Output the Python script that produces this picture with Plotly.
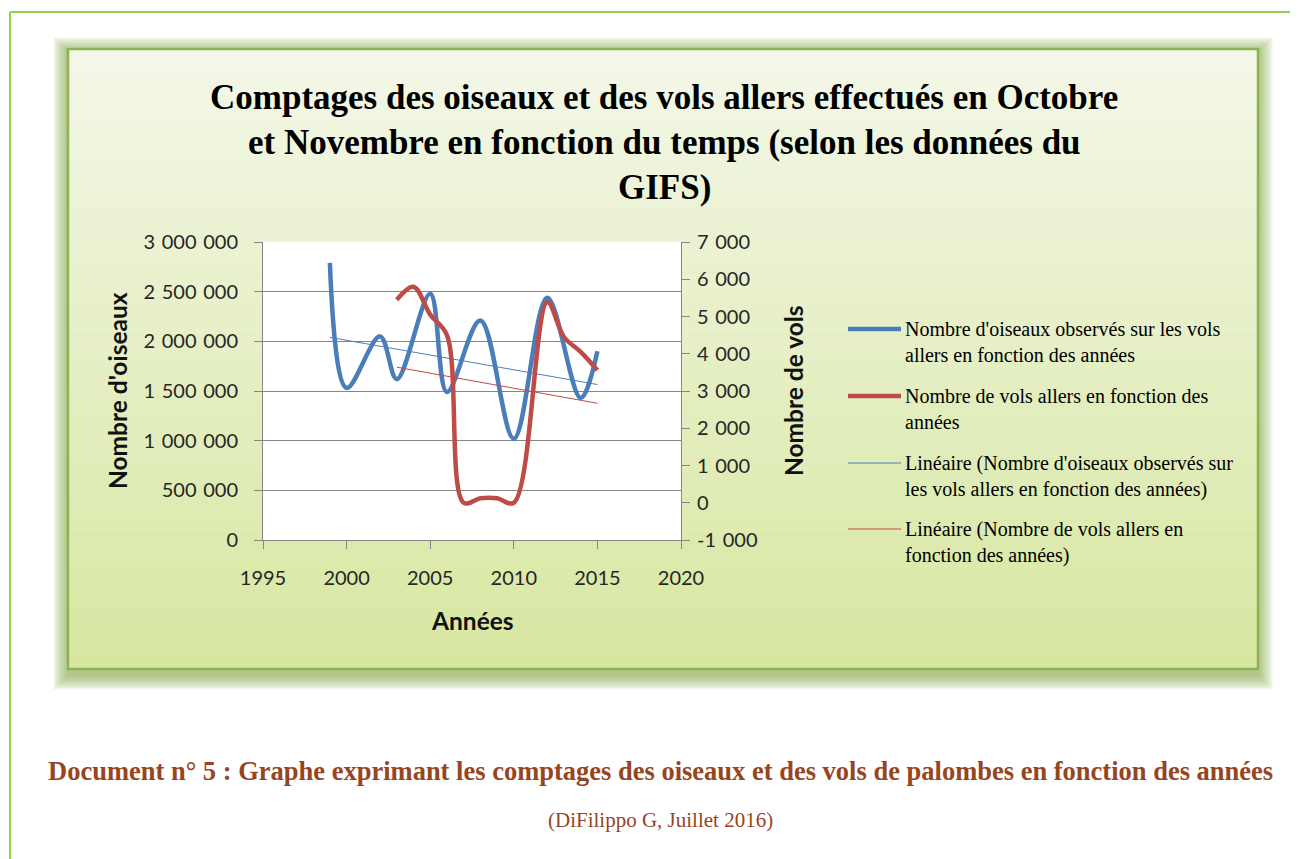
import plotly.graph_objects as go

# ---------------- data ----------------
bird_years = [1999, 2000, 2002, 2003, 2005, 2006, 2008, 2010, 2012, 2014, 2015]
bird_counts = [2790000, 1530000, 2050000, 1620000, 2480000, 1490000, 2210000, 1020000, 2440000, 1430000, 1900000]

flight_years = [2003, 2004, 2005, 2006, 2007, 2008, 2009, 2010, 2012, 2013, 2014, 2015]
flight_counts = [5450, 5800, 5050, 4500, 0, 120, 120, 0, 5380, 4450, 4050, 3560]

bird_trend_years = [1999, 2015]
bird_trend_values = [2040000, 1565000]
flight_trend_years = [2003, 2015]
flight_trend_values = [3640, 2670]

SP = "\u2004"
x_ticks = [1995, 2000, 2005, 2010, 2015, 2020]
left_ticks = [0, 500000, 1000000, 1500000, 2000000, 2500000, 3000000]
left_labels = ["0", "500 000", "1 000 000", "1 500 000", "2 000 000", "2 500 000", "3 000 000"]
right_ticks = [-1000, 0, 1000, 2000, 3000, 4000, 5000, 6000, 7000]
right_labels = ["-1 000", "0", "1 000", "2 000", "3 000", "4 000", "5 000", "6 000", "7 000"]

title_lines = [
    "Comptages des oiseaux et des vols allers effectués en Octobre",
    "et Novembre en fonction du temps (selon les données du",
    "GIFS)",
]
legend_entries = [
    ["Nombre d'oiseaux observés sur les vols", "allers en fonction des années"],
    ["Nombre de vols allers en fonction des", "années"],
    ["Linéaire (Nombre d'oiseaux observés sur", "les vols allers en fonction des années)"],
    ["Linéaire (Nombre de vols allers en", "fonction des années)"],
]
caption = "Document n° 5 : Graphe exprimant les comptages des oiseaux et des vols de palombes en fonction des années"
source = "(DiFilippo G, Juillet 2016)"

# ---------------- layout geometry (screen pixels) ----------------
W, H = 1298, 859
OFF = 8  # default body margin of the html page
PL, PR, PT, PB = 263, 681, 242, 540


def px(x):
    return (x - PL) / (PR - PL)


def py(y):
    return (PB - y) / (PB - PT)


BLUE = "#4a7ebb"
RED = "#be4b48"
AXIS = "#868686"
TICKFONT = dict(family="Lato", size=20, color="#262626")
SANSB = "Lato"
SERIF = "Liberation Serif"

fig = go.Figure()
fig.add_trace(go.Scatter(x=bird_years, y=bird_counts, mode="lines",
                         line=dict(color=BLUE, width=4.5, shape="spline", smoothing=1.0),
                         showlegend=False, yaxis="y"))
fig.add_trace(go.Scatter(x=flight_years, y=flight_counts, mode="lines",
                         line=dict(color=RED, width=4.5, shape="spline", smoothing=1.0),
                         showlegend=False, yaxis="y2"))
fig.add_trace(go.Scatter(x=bird_trend_years, y=bird_trend_values, mode="lines",
                         line=dict(color=BLUE, width=1),
                         showlegend=False, yaxis="y"))
fig.add_trace(go.Scatter(x=flight_trend_years, y=flight_trend_values, mode="lines",
                         line=dict(color=RED, width=1),
                         showlegend=False, yaxis="y2"))

shapes = []


def rect(x0, y0, x1, y1, fill=None, line=None, lw=0, layer="below"):
    d = dict(type="rect", xref="paper", yref="paper",
             x0=px(x0), x1=px(x1), y0=py(y1), y1=py(y0), layer=layer,
             line=dict(width=lw, color=line or "rgba(0,0,0,0)"))
    if fill:
        d["fillcolor"] = fill
    shapes.append(d)


def hline(x0, y0, x1, y1, color, width, layer="below"):
    shapes.append(dict(type="line", xref="paper", yref="paper",
                       x0=px(x0), x1=px(x1), y0=py(y0), y1=py(y1),
                       line=dict(color=color, width=width), layer=layer))


# page border
hline(10, 12, 1310, 12, "#92d050", 2)
hline(10, 12, 10, 870, "#92d050", 2)

# chart box shadow / glow (soft green)
BX0, BY0, BX1, BY1 = 68, 49, 1258, 669
for e in range(15, 0, -1):
    rect(BX0 - e, BY0 - e + 3, BX1 + e, BY1 + e + 6, fill="rgba(120,165,50,0.055)")

# gradient fill
top_c = (244, 247, 233)
bot_c = (215, 231, 160)
n = 50
for i in range(n):
    t = (i + 0.5) / n
    c = tuple(int(round(top_c[k] + (bot_c[k] - top_c[k]) * t)) for k in range(3))
    y0 = BY0 + (BY1 - BY0) * i / n
    y1 = BY0 + (BY1 - BY0) * (i + 1) / n + 0.6
    rect(BX0, y0, BX1, min(y1, BY1), fill="rgb(%d,%d,%d)" % c)
rect(BX0, BY0, BX1, BY1, line="#8cb253", lw=2.5)

# plot area
rect(PL, PT, PR, PB, fill="white")

annotations = []


def text(x, y, s, size, family, color="#000", bold=False, xanchor="center", angle=0):
    if bold:
        s = "<b>" + s + "</b>"
    annotations.append(dict(x=px(x), y=py(y), xref="paper", yref="paper", text=s,
                            showarrow=False, xanchor=xanchor, yanchor="middle",
                            font=dict(size=size, family=family, color=color),
                            textangle=angle))


for i, line in enumerate(title_lines):
    text(664, 97 + i * 45.5, line, 35, SERIF, bold=True)

text(117, 391, "Nombre d'oiseaux", 24.5, SANSB, color="#111", bold=True, angle=-90)
text(793, 391, "Nombre de vols", 24.5, SANSB, color="#111", bold=True, angle=-90)
text(472, 620, "Années", 24.5, SANSB, color="#111", bold=True)

# legend
leg_colors = [BLUE, RED, BLUE, RED]
leg_widths = [4.5, 4.5, 1.2, 1.2]
leg_y = [329, 396, 463, 529]
for (lines, col, lw, y) in zip(legend_entries, leg_colors, leg_widths, leg_y):
    hline(848, y, 901, y, col, lw, layer="above")
    text(903, y, lines[0], 20, SERIF, xanchor="left")
    text(903, y + 26, lines[1], 20, SERIF, xanchor="left")

text(660, 771, caption, 26.5, SERIF, color="#96461f", bold=True)
text(660, 820, source, 21, SERIF, color="#96461f")

fig.update_layout(
    width=W - OFF, height=H - OFF, autosize=False,
    margin=dict(l=PL - OFF, r=W - PR, t=PT - OFF, b=H - PB, pad=0),
    paper_bgcolor="white", plot_bgcolor="white",
    showlegend=False,
    shapes=shapes, annotations=annotations,
    xaxis=dict(range=[1995, 2020], tickvals=x_ticks, ticktext=[str(v) for v in x_ticks],
               showline=True, linecolor=AXIS, linewidth=1, ticks="outside", ticklen=8,
               tickcolor=AXIS, showgrid=False, zeroline=False, tickfont=TICKFONT,
               ticklabelstandoff=12),
    yaxis=dict(range=[0, 3000000], tickvals=left_ticks,
               ticktext=[s.replace(" ", SP) for s in left_labels],
               showline=True, linecolor=AXIS, linewidth=1, ticks="outside", ticklen=8,
               tickcolor=AXIS, showgrid=True, gridcolor=AXIS, gridwidth=1, zeroline=False,
               tickfont=TICKFONT, ticklabelstandoff=12),
    yaxis2=dict(range=[-1000, 7000], tickvals=right_ticks,
                ticktext=[s.replace(" ", SP) for s in right_labels],
                overlaying="y", side="right", anchor="x",
                showline=True, linecolor=AXIS, linewidth=1, ticks="outside", ticklen=8,
                tickcolor=AXIS, showgrid=False, zeroline=False, tickfont=TICKFONT,
                ticklabelstandoff=3),
)

fig.write_html("out.html")
